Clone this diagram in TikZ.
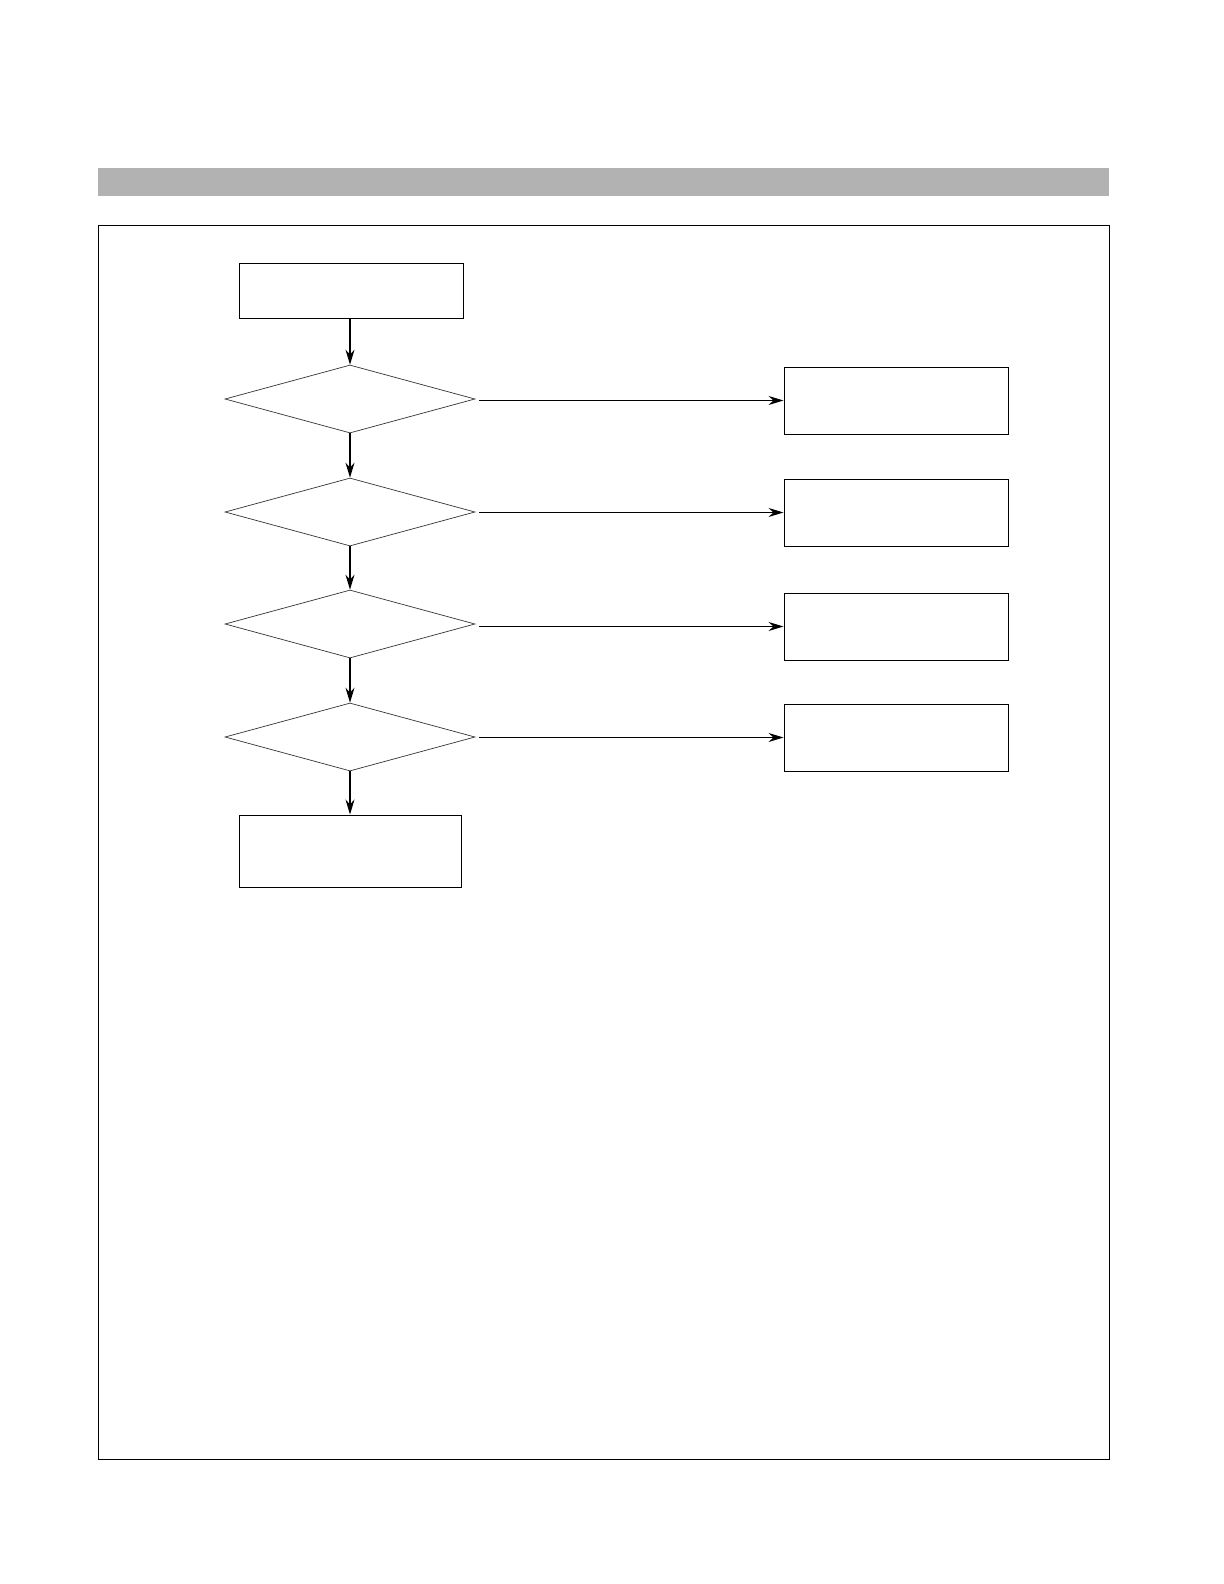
\documentclass[tikz,border=0pt]{standalone}
\usepackage{xcolor}
\usetikzlibrary{arrows.meta}
\usetikzlibrary{calc}
\usetikzlibrary{positioning, shapes.geometric}

\begin{document}
\begin{tikzpicture}[x=0.5pt,y=-0.5pt,
    stepbox/.style={draw, line width=0.5pt, inner sep=0pt, minimum width=112pt, minimum height=#1},
    test/.style={draw=black!80, line width=0.35pt, diamond, inner sep=0pt, minimum width=125pt, minimum height=34pt},
    arr/.style={-{Stealth[length=7.5pt,width=4.5pt,inset=2.5pt]}, line width=0.55pt}]
    \def\gap{2pt}
    \useasboundingbox (0,0) rectangle (1224,1584);
    % title bar and frame
    \fill[black!30] (98,168) rectangle (1109,196);
    \draw[line width=0.5pt] (98,225) rectangle (1109,1459);
    % main column
    \node[stepbox=27.5pt, minimum width=112pt] (start) at (351,290.5) {};
    \node[test] (q1) at (350,399) {};
    \node[test] (q2) at (350,512) {};
    \node[test] (q3) at (350,624) {};
    \node[test] (q4) at (350,737) {};
    \node[stepbox=36pt, minimum width=111pt] (stop) at (350,851) {};
    % side boxes
    \node[stepbox=33.5pt] (r1) at (896,400.5) {};
    \node[stepbox=33.5pt] (r2) at (896,512.5) {};
    \node[stepbox=33.5pt] (r3) at (896,626.5) {};
    \node[stepbox=33.5pt] (r4) at (896,737.5) {};
    % connectors
    \draw[arr] (start.south -| q1.north) -- (q1.north);
    \draw[arr] (q1.south) -- (q2.north);
    \draw[arr] (q2.south) -- (q3.north);
    \draw[arr] (q3.south) -- (q4.north);
    \draw[arr] (q4.south) -- (q4.south |- stop.north);
    \foreach \i in {1,...,4}
      \draw[arr] ([xshift=\gap]q\i.east |- r\i.west) -- (r\i.west);
\end{tikzpicture}
\end{document}
